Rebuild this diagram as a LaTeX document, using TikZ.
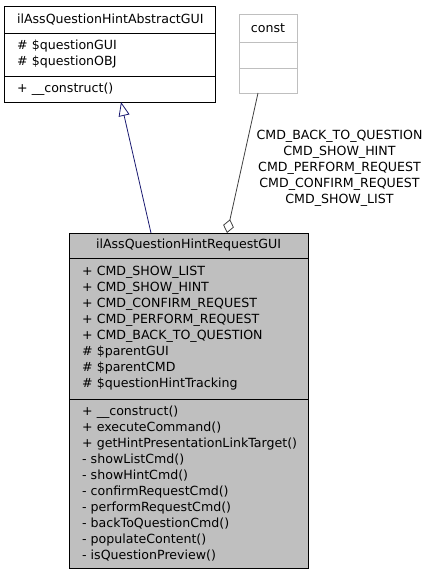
\documentclass[tikz,border=0pt]{standalone}
\usepackage{fontspec}
\setmainfont{DejaVu Sans}
\usetikzlibrary{arrows.meta,positioning}

\definecolor{umlgray}{RGB}{191,191,191}
\definecolor{umlblue}{RGB}{25,25,112}
\definecolor{umledge}{RGB}{64,64,64}

\newcommand{\umlfont}{\fontsize{12.6bp}{16bp}\selectfont\hyphenpenalty=10000 }

\tikzset{
  part/.style={draw, line width=0.8bp, inner xsep=13bp, inner ysep=0pt, outer sep=0pt,
    font=\umlfont, align=left, anchor=north west},
  head/.style={part, align=center},
  inherit/.style={umlblue, line width=0.8bp, -{Triangle[open, length=14bp, width=11bp]}},
  aggr/.style={umledge, line width=0.8bp, -{Diamond[open, length=14bp, width=11bp]}}
}

\begin{document}
\begin{tikzpicture}[x=1bp, y=-1bp]
\useasboundingbox (0,0) rectangle (431,576);

% base class
\node[head, text width=185bp, minimum height=27bp] (abs title) at (4,6) {ilAssQuestionHintAbstractGUI};
\node[part, text width=185bp, minimum height=43bp, below=0pt of abs title] (abs attrs)
  {\# \$questionGUI\\\# \$questionOBJ};
\node[part, text width=185bp, minimum height=26bp, below=0pt of abs attrs] (abs methods)
  {+ \_\_construct()};

% const
\node[head, draw=umlgray, inner xsep=5bp, text width=48bp, minimum height=28bp] (const title) at (239,14) {const};
\node[part, draw=umlgray, inner xsep=5bp, text width=48bp, minimum height=26bp, below=0pt of const title] (const attrs) {};
\node[part, draw=umlgray, inner xsep=5bp, text width=48bp, minimum height=25bp, below=0pt of const attrs] (const bottom) {};

% class
\node[head, fill=umlgray, text width=213bp, minimum height=25bp] (req title) at (69,233) {ilAssQuestionHintRequestGUI};
\node[part, fill=umlgray, text width=213bp, minimum height=141bp, below=0pt of req title] (req attrs)
  {+ CMD\_SHOW\_LIST\\
   + CMD\_SHOW\_HINT\\
   + CMD\_CONFIRM\_REQUEST\\
   + CMD\_PERFORM\_REQUEST\\
   + CMD\_BACK\_TO\_QUESTION\\
   \# \$parentGUI\\
   \# \$parentCMD\\
   \# \$questionHintTracking};
\node[part, fill=umlgray, text width=213bp, minimum height=169bp, below=0pt of req attrs] (req methods)
  {+ \_\_construct()\\
   + executeCommand()\\
   +~getHintPresentationLinkTarget()\\
   - showListCmd()\\
   - showHintCmd()\\
   - confirmRequestCmd()\\
   - performRequestCmd()\\
   - backToQuestionCmd()\\
   - populateContent()\\
   - isQuestionPreview()};

% edges
\draw[inherit] ([xshift=-37.5bp]req title.north) -- ([xshift=11.5bp]abs methods.south);
\draw[aggr] ([xshift=-10bp]const bottom.south) -- ([xshift=38.5bp]req title.north);
\node[font=\umlfont, align=center] (aggr label) at (339.5,168)
  {CMD\_BACK\_TO\_QUESTION\\CMD\_SHOW\_HINT\\CMD\_PERFORM\_REQUEST\\CMD\_CONFIRM\_REQUEST\\CMD\_SHOW\_LIST};
\end{tikzpicture}
\end{document}
